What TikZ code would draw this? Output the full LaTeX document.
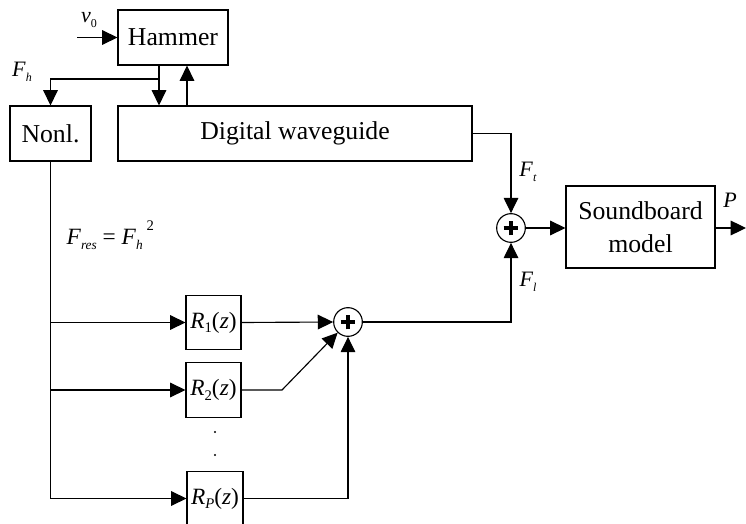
\documentclass[tikz,border=0pt]{standalone}
\usepackage{fontspec}
\setmainfont{Liberation Serif}
\usetikzlibrary{arrows.meta}
\newcommand\lsub[2][9]{\raisebox{-0.45ex}{\fontsize{#1}{#1}\selectfont #2}}
\begin{document}
\begin{tikzpicture}[x=0.75pt,y=-0.75pt,
  line width=0.85pt,
  arr/.style={-{Triangle[length=11.5pt,width=11pt]}},
  blk/.style={draw,inner sep=0pt,line width=0.85pt,font=\fontsize{19.3}{22}\selectfont},
  rblk/.style={draw,inner sep=0pt,line width=0.85pt,minimum width=41.25pt,minimum height=41pt,font=\fontsize{17.5}{20}\selectfont},
  sum/.style={draw,circle,inner sep=0pt,minimum size=21.5pt,line width=0.85pt},
  plus/.style={line width=2.4pt},
  lab/.style={font=\fontsize{16.5}{18}\selectfont,inner sep=0pt}
]
\clip (0,0) rectangle (746,524);
% blocks
\node[blk,minimum width=82.5pt,minimum height=41.25pt] (H) at (173,37.5) {Hammer};
\node[blk,minimum width=60.75pt,minimum height=41.25pt] (N) at (50.5,133.5) {Nonl.};
\node[blk,minimum width=265.5pt,minimum height=41.25pt] (DW) at (295,133.5) {Digital waveguide};
\node[blk,minimum width=111.75pt,minimum height=61.5pt,align=center] (SB) at (640.5,227) {Soundboard\\[3pt]model};
\node[rblk] (R1) at (213.5,322.5) {\textit{R}\lsub[11]{1}(\textit{z})};
\node[rblk] (R2) at (213.5,390) {\textit{R}\lsub[11]{2}(\textit{z})};
\node[rblk,minimum width=42pt] (RP) at (215,498.5) {\textit{R}\lsub[11]{\textit{P}}(\textit{z})};
\node[sum] (S1) at (511,228) {};
\node[sum] (S2) at (348,322) {};
\foreach \s in {S1,S2}{
  \draw[plus] ([xshift=-5.5pt]\s.center) -- ([xshift=5.5pt]\s.center);
  \draw[plus] ([yshift=-5.5pt]\s.center) -- ([yshift=5.5pt]\s.center);
}
% dots
\fill (215,432) circle (0.9pt);
\fill (215,455) circle (0.9pt);
% coordinates
\coordinate (vin) at (77,37.5);
\coordinate (hx) at (159,79);
\coordinate (ux) at (187,79);
\coordinate (bend) at (282,390);
\coordinate (out) at (746,228);
% connectors
\draw[arr] (vin) -- (H.west);
\draw (H.south -| hx) -- (hx);
\draw[arr] (hx) -| (N.north);
\draw[arr] (hx) -- (DW.north -| hx);
\draw[arr] (DW.north -| ux) -- (H.south -| ux);
\draw[arr] (DW.east) -| (S1.north);
\draw[arr] (S1.east) -- (SB.west |- S1.east);
\draw[arr] (SB.east |- S1.east) -- (out);
\draw[arr] (N.south) |- (RP.west);
\draw[arr] (N.south |- R1.west) -- (R1.west);
\draw[arr] (N.south |- R2.west) -- (R2.west);
\draw[arr] (R1.east) -- (S2.west);
\draw[arr] (R2.east) -- (bend) -- (S2);
\draw[arr] (RP.east) -| (S2.south);
\draw[arr] (S2.east) -| (S1.south);
% labels
\node[lab] (lv) at (89,20) {\textit{v}\lsub{0}};
\node[lab] (lh) at (22,72) {\textit{F}\lsub{\textit{h}}};
\node[lab] (lt) at (528,172) {\textit{F}\lsub{\textit{t}}};
\node[lab] (ll) at (528,282) {\textit{F}\lsub{\textit{l}}};
\node[lab] (lp) at (730,200) {\textit{P}};
\node[lab,font=\fontsize{17.5}{20}\selectfont,anchor=west] (lres) at (66,235) {\textit{F}\lsub[10]{\textit{res}} = \textit{F}\lsub[10]{\textit{h}}\,\raisebox{1.3ex}{\fontsize{11}{11}\selectfont 2}};
\end{tikzpicture}
\end{document}
